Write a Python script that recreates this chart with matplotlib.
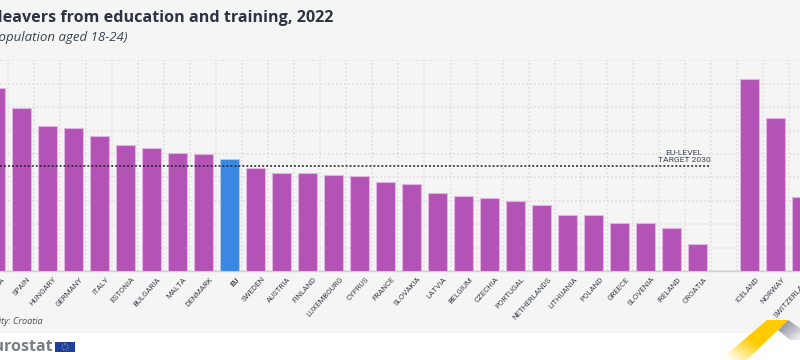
import matplotlib
matplotlib.use('Agg')
import matplotlib.pyplot as plt
import numpy as np
from matplotlib.patches import Polygon, Rectangle, Circle

# Data
countries = ['ROMANIA', 'SPAIN', 'HUNGARY', 'GERMANY', 'ITALY', 'ESTONIA', 'BULGARIA', 'MALTA',
             'DENMARK', 'EU', 'SWEDEN', 'AUSTRIA', 'FINLAND', 'LUXEMBOURG', 'CYPRUS', 'FRANCE',
             'SLOVAKIA', 'LATVIA', 'BELGIUM', 'CZECHIA', 'PORTUGAL', 'NETHERLANDS', 'LITHUANIA',
             'POLAND', 'GREECE', 'SLOVENIA', 'IRELAND', 'CROATIA', '', 'ICELAND', 'NORWAY', 'SWITZERLAND']
values = [15.6, 13.9, 12.4, 12.2, 11.5, 10.8, 10.5, 10.1,
          10.0, 9.6, 8.8, 8.4, 8.4, 8.2, 8.1, 7.6,
          7.4, 6.7, 6.4, 6.2, 6.0, 5.6, 4.8,
          4.8, 4.1, 4.1, 3.7, 2.3, 0, 16.4, 13.1, 6.3]
target = 9
y_ticks = [0, 2, 4, 6, 8, 10, 12, 14, 16, 18]

W, H = 800, 360
PURPLE = '#b353b5'
BLUE = '#3a88e2'
DARK = '#2d3340'

fig = plt.figure(figsize=(8, 3.6), dpi=100, facecolor='white')

# Overlay in pixels for the panel, logo and corner
bg = fig.add_axes([0, 0, 1, 1], zorder=0)
bg.set_xlim(0, W)
bg.set_ylim(H, 0)
bg.axis('off')
bg.add_patch(Rectangle((0, 0), W, 333, color='#f5f5f5', lw=0))

# Chart axes, baseline at y=271, 18 at y=60.4
step = 26.03
x0 = -5
ax = fig.add_axes([0, (H - 271) / H, 1, (271 - 60.4) / H], zorder=1)
ax.patch.set_alpha(0)

pos = np.arange(len(countries))
colors = [BLUE if c == 'EU' else PURPLE for c in countries]
ax.bar(pos, values, width=0.73, color=colors, edgecolor=['#a9cdf3' if c == 'EU' else '#e2b4e3' for c in countries],
       linewidth=0.8, zorder=3)

ax.set_yticks(y_ticks)
ax.set_xticks(pos[:-1] + 0.5, minor=True)
ax.set_xticks([])
ax.tick_params(axis='both', which='both', length=0, labelleft=False)
ax.grid(True, axis='y', color='#dcdcdc', linestyle=':', linewidth=1.1, zorder=1)
ax.grid(True, axis='x', which='minor', color='#dcdcdc', linestyle=':', linewidth=1.1, zorder=1)
for s in ['top', 'left', 'right']:
    ax.spines[s].set_visible(False)
ax.spines['bottom'].set_color('#cfcfcf')
ax.spines['bottom'].set_linewidth(1)

# Limits go after the ticks, set_xticks widens them
ax.set_xlim((0 - x0) / step, (W - x0) / step)
ax.set_ylim(0, 18)

# Labels as annotations, the first and last ticks lie outside the view
for i, name in zip(pos, countries):
    ax.annotate(name, (i, 0), xytext=(6, -5), textcoords='offset pixels', rotation=48, ha='right', va='top',
                rotation_mode='anchor', fontsize=5.7, family='Roboto', color='#3f444d',
                fontweight='bold' if name == 'EU' else 'normal', annotation_clip=False)

# Target line stops just after Croatia
ax.plot([ax.get_xlim()[0], (710 - x0) / step], [target, target], color='#222222', linestyle=(0, (1.3, 1.3)),
        linewidth=1.1, zorder=4)
ax.text((684 - x0) / step, target + 0.2, 'EU-LEVEL\nTARGET 2030', ha='center', va='bottom', fontsize=6.1,
        family='Roboto', color='#3c4450', linespacing=1.2, zorder=5)

# Titles, cut off on the left as in the crop
bg.text(333, 18, 'Early leavers from education and training, 2022', ha='right', va='center', fontsize=11.6,
        fontweight='bold', family='Open Sans', color=DARK)
bg.text(128, 37, '(% of population aged 18-24)', ha='right', va='center', fontsize=9.5, style='italic',
        family='Open Sans', color='#3c4450')
bg.text(43, 322, 'Low reliability: Croatia', ha='right', va='center', fontsize=6.6, style='italic',
        family='Open Sans', color='#4a4f58')

# Logo
bg.text(53, 347, 'eurostat', ha='right', va='center', fontsize=11.5, fontweight='bold', family='Open Sans',
        color='#7a7d82')
bg.add_patch(Rectangle((55, 342), 20, 10, color='#1f3f9e', lw=0))
bg.add_patch(Circle((65, 347), 3, fill=False, edgecolor='#e3c63a', linewidth=0.7, linestyle=':'))

# Corner shapes with fading colour
def fade(poly, rgb, extent, cx, cy, off):
    yy, xx = np.mgrid[0:1:64j, 0:1:64j]
    alpha = np.clip(cx * xx + cy * (1 - yy) + off, 0, 1)
    img = np.dstack([np.full_like(xx, rgb[0]), np.full_like(xx, rgb[1]), np.full_like(xx, rgb[2]), alpha])
    im = bg.imshow(img, extent=extent, aspect='auto', zorder=2)
    patch = Polygon(poly, closed=True, transform=bg.transData, fc='none', ec='none')
    bg.add_patch(patch)
    im.set_clip_path(patch)

fade([(788, 320), (800, 328), (800, 340), (790, 340), (778, 330)], (0.6, 0.61, 0.65), (778, 800, 340, 320), -0.6, 0.6, 0.7)
fade([(767, 320), (788, 320), (747, 360), (720, 360)], (1.0, 0.8, 0.0), (720, 788, 360, 320), 1.2, 1.2, -0.15)
bg.set_xlim(0, W)
bg.set_ylim(H, 0)

fig.savefig('out.png', dpi=100, facecolor='white')
